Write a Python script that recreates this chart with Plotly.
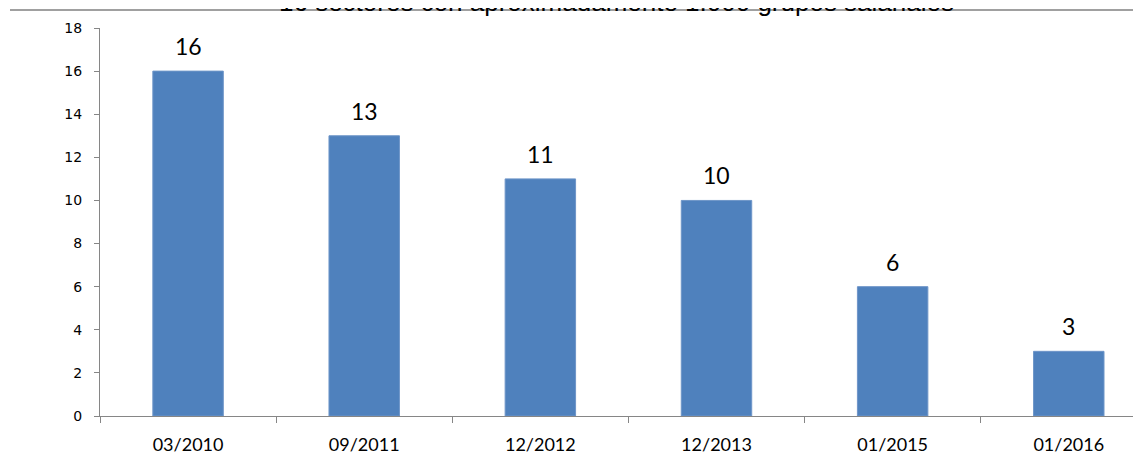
import plotly.graph_objects as go

categories = ["03/2010", "09/2011", "12/2012", "12/2013", "01/2015", "01/2016"]
values = [16, 13, 11, 10, 6, 3]
y_ticks = [0, 2, 4, 6, 8, 10, 12, 14, 16, 18]
title_text = "16 sectores con aproximadamente 1.000 grupos salariales"

fig = go.Figure()
fig.add_trace(go.Bar(
    x=categories, y=values, width=0.4,
    marker=dict(color="#4F81BD", line=dict(color="#6E95C8", width=1)),
    hoverinfo="x+y",
))

for c, v in zip(categories, values):
    fig.add_annotation(x=c, y=v, xref="x", yref="y", text=str(v), showarrow=False,
                       yanchor="bottom", yshift=9,
                       font=dict(family="Lato", size=23, color="#000000"))

fig.add_annotation(x=(616.5 - 100) / 1041, y=1 + 9.5 / 388, xref="paper", yref="paper",
                   text=title_text, showarrow=False, yanchor="bottom", xanchor="center",
                   font=dict(family="Liberation Sans", size=26, color="#000000"))

fig.add_shape(type="line", xref="paper", yref="paper",
              x0=(10 - 100) / 1041, x1=1.02, y0=1 + 18 / 388, y1=1 + 18 / 388,
              line=dict(color="#A0A0A0", width=2))

fig.update_layout(
    width=1133, height=449, autosize=False,
    margin=dict(l=92, r=0, t=20, b=41),
    plot_bgcolor="white", paper_bgcolor="white",
    showlegend=False,
    xaxis=dict(
        type="category", range=[-0.5, 5.41],
        showline=True, linecolor="#868686", linewidth=1,
        ticks="outside", tickson="boundaries", ticklen=6, tickcolor="#868686",
        showgrid=False, zeroline=False,
        tickfont=dict(family="Lato", size=18, color="#000000"),
        ticklabelstandoff=12,
    ),
    yaxis=dict(
        range=[0, 18], tickvals=y_ticks,
        showline=True, linecolor="#868686", linewidth=1,
        ticks="outside", ticklen=5, tickcolor="#868686",
        showgrid=False, zeroline=False,
        tickfont=dict(family="DejaVu Sans", size=14, color="#000000"),
        ticklabelstandoff=9,
    ),
)

fig.write_html("out.html")
